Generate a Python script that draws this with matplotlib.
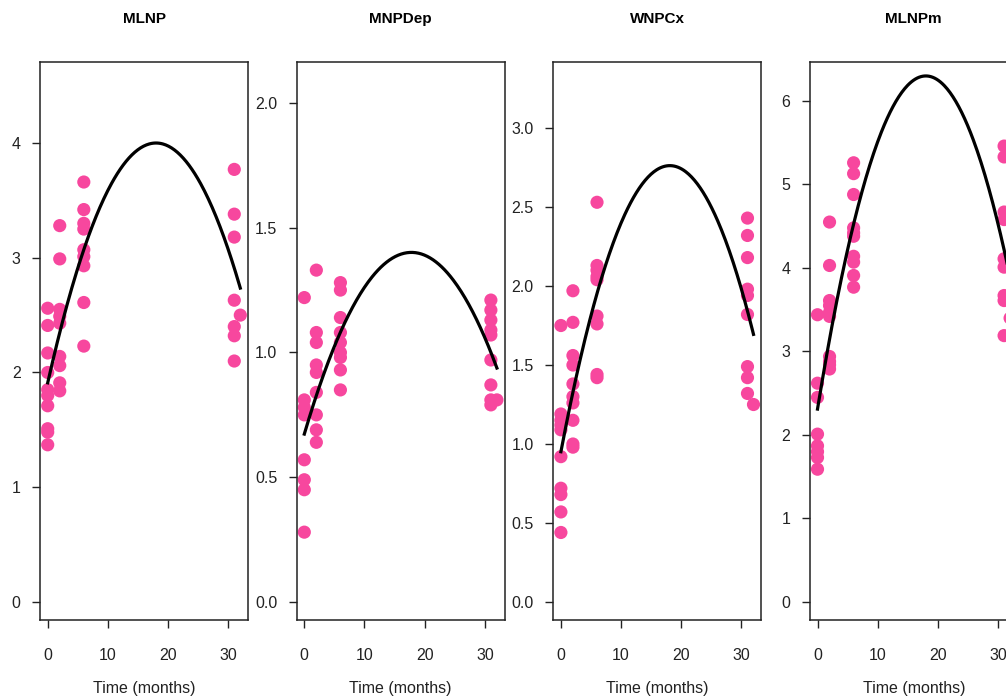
import numpy as np
import matplotlib.pyplot as plt

plt.rcParams['font.family'] = ['Liberation Sans', 'DejaVu Sans']

# panel titles
titles = ['MLNP', 'MNPDep', 'WNPCx', 'MLNPm']

# measurement times (months)
times = [0, 2, 6, 31, 32]

# observed values per panel, per time point
mlnp = [
    [2.56, 2.41, 2.17, 2.00, 1.85, 1.80, 1.71, 1.51, 1.48, 1.37],
    [3.28, 2.99, 2.55, 2.49, 2.43, 2.14, 2.06, 1.91, 1.84],
    [3.66, 3.42, 3.30, 3.25, 3.07, 3.01, 2.93, 2.61, 2.23],
    [3.77, 3.38, 3.18, 2.63, 2.40, 2.32, 2.10],
    [2.50],
]
mnpdep = [
    [1.22, 0.81, 0.78, 0.75, 0.57, 0.49, 0.45, 0.28],
    [1.33, 1.08, 1.04, 0.95, 0.92, 0.84, 0.75, 0.69, 0.64],
    [1.28, 1.25, 1.14, 1.08, 1.04, 1.00, 0.98, 0.93, 0.85],
    [1.21, 1.17, 1.13, 1.09, 1.07, 0.97, 0.87, 0.81, 0.79],
    [0.81],
]
wnpcx = [
    [1.75, 1.19, 1.15, 1.12, 1.09, 0.92, 0.72, 0.68, 0.57, 0.44],
    [1.97, 1.77, 1.56, 1.50, 1.38, 1.30, 1.26, 1.15, 1.00, 0.98],
    [2.53, 2.13, 2.10, 2.06, 2.04, 1.81, 1.76, 1.44, 1.42],
    [2.43, 2.32, 2.18, 1.98, 1.94, 1.82, 1.49, 1.42, 1.32],
    [1.25],
]
mlnpm = [
    [3.44, 2.62, 2.45, 2.01, 1.87, 1.80, 1.73, 1.59],
    [4.55, 4.03, 3.61, 3.55, 3.47, 3.42, 2.94, 2.88, 2.84, 2.79],
    [5.26, 5.13, 4.88, 4.48, 4.42, 4.38, 4.14, 4.07, 3.91, 3.77],
    [5.46, 5.33, 4.67, 4.58, 4.11, 4.01, 3.67, 3.61, 3.19],
    [3.40],
]
panels = [mlnp, mnpdep, wnpcx, mlnpm]

# fitted quadratic: intercept, peak time, peak value
fit_start = [1.91, 0.673, 0.951, 2.31]
fit_peak_t = [18.0, 17.8, 18.1, 18.0]
fit_peak_v = [4.00, 1.401, 2.762, 6.30]

# y axis settings
y_ticks = [[0, 1, 2, 3, 4], [0.0, 0.5, 1.0, 1.5, 2.0],
           [0.0, 0.5, 1.0, 1.5, 2.0, 2.5, 3.0], [0, 1, 2, 3, 4, 5, 6]]
y_fmt = ['%d', '%.1f', '%.1f', '%d']
y_lims = [(-0.157, 4.706), (-0.072, 2.164), (-0.114, 3.418), (-0.216, 6.467)]

W, H = 1006, 699
fig = plt.figure(figsize=(W / 100, H / 100), dpi=100)

pink = '#F7479E'
for i in range(4):
    left = 40 + i * 256.6
    ax = fig.add_axes([left / W, (H - 620) / H, 208 / W, 558 / H])
    for t, vals in zip(times, panels[i]):
        ax.scatter([t] * len(vals), vals, s=90, color=pink, edgecolors='none',
                   zorder=2, clip_on=False)
    a = (fit_start[i] - fit_peak_v[i]) / fit_peak_t[i] ** 2
    xx = np.linspace(0, 32, 200)
    ax.plot(xx, fit_peak_v[i] + a * (xx - fit_peak_t[i]) ** 2, color='black',
            lw=2.3, zorder=3)
    ax.set_xlim(-1.28, 33.28)
    ax.set_ylim(*y_lims[i])
    ax.set_xticks([0, 10, 20, 30])
    ax.set_yticks(y_ticks[i])
    ax.set_yticklabels([y_fmt[i] % v for v in y_ticks[i]])
    ax.tick_params(direction='out', length=6, width=1, labelsize=11.5,
                   color='#222222', labelcolor='#222222')
    ax.tick_params(axis='y', pad=8)
    ax.tick_params(axis='x', pad=14)
    for sp in ax.spines.values():
        sp.set_linewidth(1.1)
        sp.set_color('#222222')
    ax.set_title(titles[i], fontsize=11, fontweight='bold', pad=28)
    ax.set_xlabel('Time (months)', fontsize=11.5, labelpad=13, color='#222222')

fig.savefig('out.png', dpi=100)
